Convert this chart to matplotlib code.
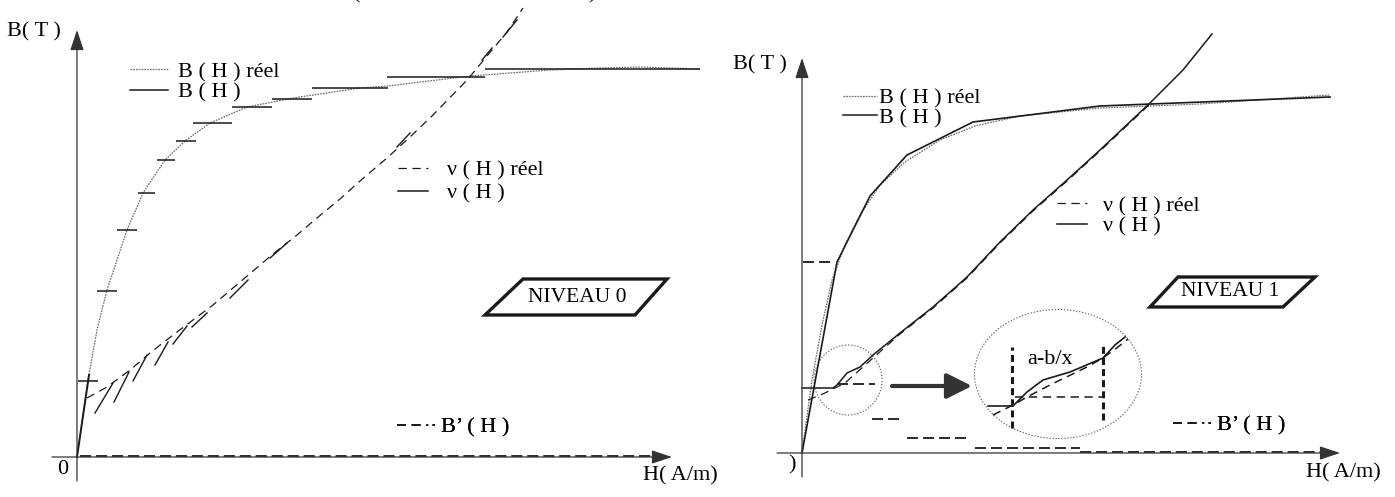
import matplotlib
matplotlib.use("Agg")
import matplotlib.pyplot as plt
from matplotlib.patches import Polygon, Ellipse
from matplotlib.lines import Line2D

plt.rcParams['font.family'] = ['Liberation Serif', 'DejaVu Serif']
plt.rcParams['lines.scale_dashes'] = False

INK = '#1a1a1a'
GREY = '#6a6a6a'
FS = 16

# ---------------- NIVEAU 0 (left panel), H and B in chart units ----------------
n0_breel_h = [0, 11, 20, 30, 50, 66, 88, 108, 133, 170, 216, 283, 311, 393, 473, 523, 563, 623]
n0_breel_b = [0, 77, 127, 167, 227, 264, 297, 316, 334, 350, 359, 369, 371, 381, 387, 389, 390, 388]

# B(H) approximated by constant pieces
n0_b_level = [76, 166, 227, 264, 297, 316, 334, 350, 358, 369, 380, 388]
n0_b_h0 = [1, 20, 40, 61, 80, 99, 116, 155, 195, 235, 310, 408]
n0_b_h1 = [21, 40, 60, 78, 98, 119, 155, 195, 235, 311, 408, 623]
n0_b_first_h = [0, 12]
n0_b_first_b = [0, 82]

n0_nureel_h = [10, 30, 53, 73, 96, 116, 136, 156, 176, 196, 220, 240, 263, 283, 310, 333, 356, 391, 410, 430, 446]
n0_nureel_b = [59, 70, 87, 104, 122, 137, 152, 169, 186, 203, 222, 239, 258, 276, 299, 320, 342, 378, 401, 425, 449]

# nu(H) linear pieces
n0_nu_h0 = [18, 37, 56, 78, 96, 115, 153, 193, 320, 405, 426]
n0_nu_b0 = [44, 55, 76, 92, 113, 130, 159, 199, 310, 397, 420]
n0_nu_h1 = [36, 52, 70, 91, 110, 130, 171, 210, 333, 415, 440]
n0_nu_b1 = [74, 85, 102, 115, 131, 144, 177, 214, 324, 409, 437]

n0_bprime_h = [3, 585]
n0_bprime_b = [1, 1]

# ---------------- NIVEAU 1 (right panel) ----------------
n1_b_h = [0, 35, 68, 105, 171, 298, 528]
n1_b_b = [0, 191, 257, 298, 331, 347, 356]
n1_breel_h = [0, 10, 20, 30, 43, 58, 78, 103, 138, 173, 218, 298, 398, 528]
n1_breel_b = [0, 73, 128, 173, 208, 238, 268, 291, 313, 327, 337, 345, 349, 358]

n1_nu_h = [0, 31, 35, 45, 58, 71, 98, 131, 165, 198, 231, 265, 298, 348, 381, 410]
n1_nu_b = [65, 65, 68, 80, 86, 98, 120, 146, 176, 211, 243, 273, 303, 350, 383, 419]
n1_nureel_h = [6, 23, 43, 71, 98, 131, 165, 198, 231, 265, 298, 348]
n1_nureel_b = [53, 60, 70, 95, 119, 145, 175, 210, 242, 272, 302, 349]

n1_bprime_level = [191, 69, 34, 15, 5, 1]
n1_bprime_h0 = [1, 35, 70, 105, 173, 278]
n1_bprime_h1 = [30, 73, 98, 168, 278, 533]

# enlarged detail (a - b/x piece)
n1_zoom_nu_h = [186, 211, 225, 241, 268, 301, 313, 323]
n1_zoom_nu_b = [47, 47, 61, 73, 81, 95, 108, 116]
n1_zoom_reel_h = [191, 211, 225, 248, 285, 301, 316, 326]
n1_zoom_reel_b = [38, 48, 56, 68, 86, 95, 106, 114]
n1_zoom_flat_h = [213, 301]
n1_zoom_flat_b = [56, 56]
n1_zoom_bound_h = [210, 301]
n1_zoom_bound_b0 = [25, 33]
n1_zoom_bound_b1 = [106, 108]


def draw_axes(ax, x_end, y_end):
    arrow = dict(arrowstyle='-|>,head_length=0.9,head_width=0.3', color='#333333',
                 lw=0.9, mutation_scale=14, shrinkA=0, shrinkB=0)
    ax.annotate('', xy=(0, y_end), xytext=(0, -24), arrowprops=arrow)
    ax.annotate('', xy=(x_end, 0), xytext=(-25, 0), arrowprops=arrow)


def niveau_box(ax, corners, text, center):
    ax.add_patch(Polygon(corners, closed=True, fill=False, ec=INK, lw=2.4, joinstyle='miter'))
    ax.text(center[0], center[1], text, ha='center', va='center', fontsize=15.5)


def legend_at(ax, handles, labels, anchor, length, pad, spacing):
    leg = ax.legend(handles, labels, loc='center left', bbox_to_anchor=anchor,
                    bbox_transform=ax.transData, frameon=False, fontsize=FS,
                    handlelength=length, handletextpad=pad, labelspacing=spacing,
                    borderpad=0, borderaxespad=0)
    ax.add_artist(leg)


fig = plt.figure(figsize=(13.95, 4.97), dpi=100)
ax0 = fig.add_axes([0, 0, 730 / 1395, 1])
ax1 = fig.add_axes([730 / 1395, 0, 665 / 1395, 1])
ax0.set_xlim(-77, 653)
ax0.set_ylim(-40, 457)
ax1.set_xlim(-72, 593)
ax1.set_ylim(-44, 453)
for ax in (ax0, ax1):
    ax.axis('off')

reel_style = dict(color=GREY, lw=0.9, dashes=(1.2, 0.8))
nu_reel_style = dict(color=INK, lw=0.9, dashes=(6, 4))
bprime_style = dict(color=INK, lw=1.3, dashes=(8, 3.5))
bprime_leg = dict(color=INK, lw=1.3, dashes=(6.5, 4, 6.5, 4, 1.5, 3))

# ---- left panel ----
ax = ax0
draw_axes(ax, 595, 427)
ax.plot(n0_breel_h, n0_breel_b, **reel_style)
ax.hlines(n0_b_level, n0_b_h0, n0_b_h1, color=INK, lw=1.1)
ax.plot(n0_b_first_h, n0_b_first_b, color=INK, lw=1.4)
ax.plot(n0_nureel_h, n0_nureel_b, **nu_reel_style)
for h0, b0, h1, b1 in zip(n0_nu_h0, n0_nu_b0, n0_nu_h1, n0_nu_b1):
    ax.plot([h0, h1], [b0, b1], color=INK, lw=1.0)
ax.plot(n0_bprime_h, n0_bprime_b, **bprime_style)

ax.text(-43, 425, 'B( T )', ha='center', va='center', fontsize=FS)
ax.text(-14, -13, '0', ha='center', va='center', fontsize=FS)
ax.text(603, -19, 'H( A/m)', ha='center', va='center', fontsize=FS)
ax.text(280, 463, '(', ha='center', va='center', fontsize=FS)
ax.text(515, 463, ')', ha='center', va='center', fontsize=FS)
niveau_box(ax, [(446, 178), (590, 178), (558, 142), (408, 142)], 'NIVEAU 0', (500, 160))

legend_at(ax, [Line2D([], [], **reel_style), Line2D([], [], color=INK, lw=1.1)],
          ['B ( H ) réel', 'B ( H )'], (53, 375), 1.7, 0.45, 0.0)
legend_at(ax, [Line2D([], [], **nu_reel_style), Line2D([], [], color=INK, lw=1.1)],
          ['ν ( H ) réel', 'ν ( H )'], (321, 275), 1.35, 0.85, 0.1)
legend_at(ax, [Line2D([], [], **bprime_leg)], ['B’ ( H )'], (320, 30), 1.7, 0.3, 0)

# ---- right panel ----
ax = ax1
draw_axes(ax, 538, 395)
ax.plot(n1_breel_h, n1_breel_b, **reel_style)
ax.plot(n1_b_h, n1_b_b, color=INK, lw=1.2)
ax.plot(n1_nureel_h, n1_nureel_b, **nu_reel_style)
ax.plot(n1_nu_h, n1_nu_b, color=INK, lw=1.1)
ax.hlines(n1_bprime_level, n1_bprime_h0, n1_bprime_h1, color=INK, lw=1.3,
          linestyles=[(0, (8, 3.5))])

ax.add_patch(Ellipse((46, 73), 68, 70, fill=False, ec=GREY, lw=0.8, ls=(0, (1, 1.2))))
ax.add_patch(Ellipse((256, 79), 167, 129, fill=False, ec=GREY, lw=0.8, ls=(0, (1, 1.2))))
ax.annotate('', xy=(170, 67), xytext=(90, 67),
            arrowprops=dict(arrowstyle='-|>,head_length=1.1,head_width=0.55', color='#333333',
                            lw=3, mutation_scale=14, shrinkA=0, shrinkB=0))
ax.plot(n1_zoom_nu_h, n1_zoom_nu_b, color=INK, lw=1.2)
ax.plot(n1_zoom_reel_h, n1_zoom_reel_b, color=INK, lw=1.1, dashes=(6, 4))
ax.plot(n1_zoom_flat_h, n1_zoom_flat_b, color=INK, lw=1.1, dashes=(6, 4))
ax.vlines(n1_zoom_bound_h, n1_zoom_bound_b0, n1_zoom_bound_b1, color=INK, lw=2.2,
          linestyles=[(0, (5, 3))])
ax.text(248, 93, 'a-b/x', ha='center', va='center', fontsize=FS)

ax.text(-42, 388, 'B( T )', ha='center', va='center', fontsize=FS)
ax.text(-10, -12, ')', ha='center', va='center', fontsize=FS)
ax.text(541, -20, 'H( A/m)', ha='center', va='center', fontsize=FS)
niveau_box(ax, [(376, 176), (513, 176), (481, 146), (348, 146)], 'NIVEAU 1', (428, 161))

legend_at(ax, [Line2D([], [], **reel_style), Line2D([], [], color=INK, lw=1.1)],
          ['B ( H ) réel', 'B ( H )'], (41, 345), 1.55, 0.05, -0.05)
legend_at(ax, [Line2D([], [], **nu_reel_style), Line2D([], [], color=INK, lw=1.1)],
          ['ν ( H ) réel', 'ν ( H )'], (255, 237), 1.35, 0.7, 0.0)
legend_at(ax, [Line2D([], [], **bprime_leg)], ['B’ ( H )'], (371, 28), 1.7, 0.3, 0)

fig.savefig('out.png', dpi=100)
